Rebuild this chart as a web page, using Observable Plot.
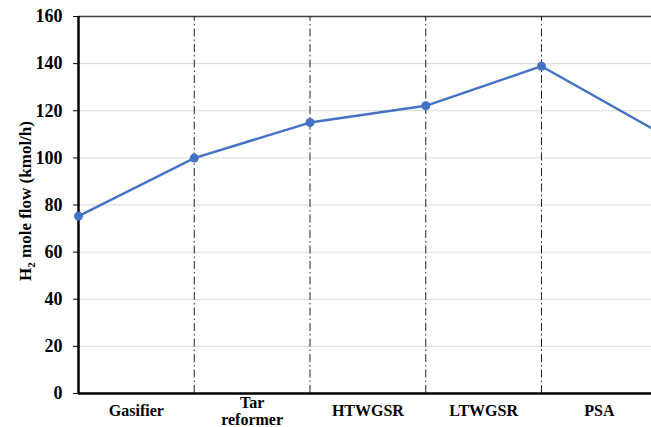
<!DOCTYPE html>
<html>
<head>
<meta charset="utf-8">
<script src="https://cdn.jsdelivr.net/npm/d3@7"></script>
<script src="https://cdn.jsdelivr.net/npm/@observablehq/plot@0.6"></script>
<style>
  html, body { margin: 0; padding: 0; background: #fff; }
  #chart svg { display: block; }
  #chart svg text { font-family: "Liberation Serif", "Times New Roman", Tinos, "DejaVu Serif", serif !important; }
</style>
</head>
<body>
<div id="chart"></div>
<script>
// Process units along the hydrogen production train
const units = ["Gasifier", "Tar reformer", "HTWGSR", "LTWGSR", "PSA"];
// H2 molar flow at each unit boundary (kmol/h); the last point lies past the PSA outlet
const stageIndex = [0, 1, 2, 3, 4, 5];
const h2Flow = [75.3, 99.9, 115.0, 122.1, 138.9, 111.2];
const yTicks = [0, 20, 40, 60, 80, 100, 120, 140, 160];
const gridTicks = [20, 40, 60, 80, 100, 120, 140];
const boundaries = [1, 2, 3, 4];

const points = stageIndex.map((s, i) => ({stage: s, flow: h2Flow[i]}));
const unitLabels = units.map((name, i) => ({pos: i + 0.5, name: name.replace(" ", "\n")}));
const oneLine = unitLabels.filter((d) => !d.name.includes("\n"));
const twoLine = unitLabels.filter((d) => d.name.includes("\n"));

const serif = "'Liberation Serif', 'Times New Roman', serif";
const blue = "#4472C4";

const plot = Plot.plot({
  width: 651,
  height: 427,
  marginLeft: 78,
  marginRight: 0,
  marginTop: 16,
  marginBottom: 34,
  style: {fontFamily: serif, fontSize: "16px", fontWeight: "bold", color: "#000", background: "#fff"},
  x: {type: "linear", domain: [0, 573 / 115.75], axis: null},
  y: {domain: [0, 160], axis: null},
  marks: [
    Plot.ruleY(gridTicks, {stroke: "#d9d9d9", strokeWidth: 1}),
    Plot.ruleY([160], {stroke: "#404040", strokeWidth: 1.5}),
    Plot.ruleX(boundaries, {y1: 0, y2: 160, stroke: "#222", strokeWidth: 1, strokeDasharray: "8,3,1.5,3"}),
    // short stubs hanging below the x axis at each unit boundary
    Plot.ruleX([0, ...boundaries], {y1: 0, y2: 0, stroke: "#000", strokeWidth: 1.2, ariaLabel: "x-stub"}),
    Plot.line(points, {x: "stage", y: "flow", stroke: blue, strokeWidth: 2.4, clip: true}),
    Plot.ruleY([0], {stroke: "#000", strokeWidth: 2.5}),
    Plot.ruleX([0], {y1: 0, y2: 160, stroke: "#000", strokeWidth: 2.5}),
    Plot.dot(points, {x: "stage", y: "flow", r: 4.5, fill: blue, stroke: "none"}),
    Plot.axisY({ticks: yTicks, tickSize: 5, tickPadding: 11, label: null, fontSize: 18, fontWeight: "bold"}),
    Plot.text(oneLine, {
      x: "pos", y: 0, text: "name", dy: 17, lineAnchor: "middle",
      fontSize: 16, fontWeight: "bold", fill: "#000", clip: false
    }),
    Plot.text(twoLine, {
      x: "pos", y: 0, text: "name", dy: 18, lineAnchor: "middle",
      fontSize: 16, fontWeight: "bold", fill: "#000", lineHeight: 1.06, clip: false
    })
  ]
});

d3.select(plot).selectAll("g[aria-label='x-stub'] line").each(function () {
  const y1 = +this.getAttribute("y1");
  this.setAttribute("y2", y1 + 5);
});

// Y-axis title with a subscripted 2
const svg = d3.select(plot);
const title = svg.append("text")
  .attr("transform", "translate(31,201) rotate(-90)")
  .attr("text-anchor", "middle")
  .attr("font-family", serif)
  .attr("font-weight", "bold")
  .attr("font-size", 17)
  .attr("fill", "#000");
title.append("tspan").text("H");
title.append("tspan").attr("font-size", 11).attr("dy", 4).text("2");
title.append("tspan").attr("dy", -4).text(" mole flow (kmol/h)");

document.getElementById("chart").append(plot);
</script>
</body>
</html>
